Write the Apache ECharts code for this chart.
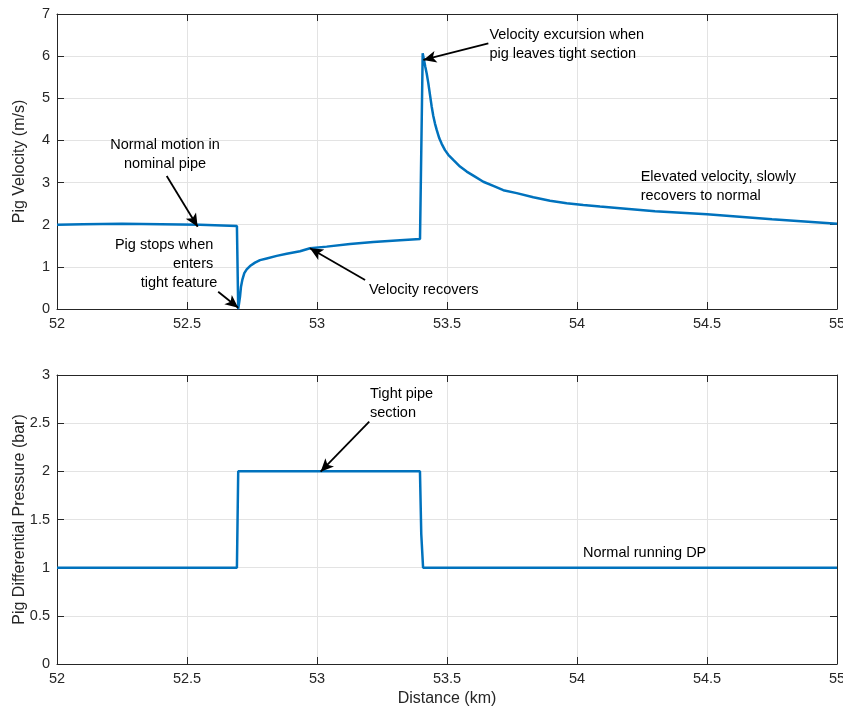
<!DOCTYPE html>
<html>
<head>
<meta charset="utf-8">
<script src="https://cdn.jsdelivr.net/npm/echarts@6/dist/echarts.min.js"></script>
<style>
html,body{margin:0;padding:0;background:#fff;}
#chart{width:843px;height:709px;}
</style>
</head>
<body>
<div id="chart"></div>
<script>
// ---- Data ----
const velDistance = [52, 52.1, 52.25, 52.4, 52.55, 52.692, 52.697,
  52.7012, 52.7038, 52.7077, 52.7127, 52.7204, 52.7296, 52.7423, 52.7615, 52.7808, 52.8065, 52.845, 52.8835, 52.9346, 52.9731, 53.0373, 53.1269, 53.2165, 53.3192, 53.3962,
  53.4065, 53.4115, 53.4165, 53.4219, 53.4281, 53.4346, 53.4412, 53.4473, 53.4538, 53.4604, 53.4704, 53.4796, 53.4923, 53.505, 53.5242, 53.55, 53.5758, 53.6077, 53.6396, 53.6781, 53.7165, 53.7681, 53.8319, 53.8962, 53.9604, 54.0242, 54.0885, 54.1654,
  54.3, 54.5, 54.75, 55];
const velocity = [2.00, 2.01, 2.02, 2.01, 2.00, 1.97, 0.00,
  0.02, 0.29, 0.53, 0.69, 0.85, 0.94, 1.02, 1.10, 1.16, 1.20, 1.26, 1.31, 1.37, 1.44, 1.48, 1.54, 1.59, 1.63, 1.66,
  6.07, 5.91, 5.75, 5.59, 5.36, 5.08, 4.80, 4.58, 4.40, 4.25, 4.05, 3.92, 3.77, 3.66, 3.54, 3.38, 3.26, 3.14, 3.02, 2.92, 2.82, 2.75, 2.65, 2.57, 2.51, 2.47, 2.43, 2.39,
  2.32, 2.25, 2.13, 2.02];

const dpDistance = [52, 52.692, 52.697, 53.396, 53.401, 53.408, 55];
const dpValues   = [1, 1, 2, 2, 1.35, 1, 1];

const xTicks = { min: 52, max: 55, interval: 0.5 };
const velTicks = { min: 0, max: 7, interval: 1 };
const dpTicks = { min: 0, max: 3, interval: 0.5 };

const xLabel = 'Distance (km)';
const velLabel = 'Pig Velocity (m/s)';
const dpLabel = 'Pig Differential Pressure (bar)';

// Annotations (data coordinates)
const velTexts = [
  { text: 'Normal motion in\nnominal pipe', at: [52.4154, 3.666], align: 'center' },
  { text: 'Pig stops when', at: [52.601, 1.519], align: 'right' },
  { text: 'enters', at: [52.601, 1.068], align: 'right' },
  { text: 'tight feature', at: [52.6165, 0.624], align: 'right' },
  { text: 'Velocity recovers', at: [53.200, 0.451], align: 'left' },
  { text: 'Velocity excursion when\npig leaves tight section', at: [53.663, 6.276], align: 'left' },
  { text: 'Elevated velocity, slowly\nrecovers to normal', at: [54.245, 2.914], align: 'left' }
];
const velArrows = [
  { from: [52.422, 3.156], to: [52.541, 1.953] },
  { from: [52.620, 0.410], to: [52.697, 0.030] },
  { from: [53.185, 0.688], to: [52.973, 1.440] },
  { from: [53.659, 6.305], to: [53.409, 5.909] }
];
const dpTexts = [
  { text: 'Tight pipe\nsection', at: [53.204, 2.706], align: 'left' },
  { text: 'Normal running DP', at: [54.023, 1.152], align: 'left' }
];
const dpArrows = [
  { from: [53.201, 2.515], to: [53.014, 1.996] }
];

// ---- Chart ----
const FONT = "'Liberation Sans', Arial, Helvetica, sans-serif";
const AX = '#262626';
const GRIDC = '#e3e3e3';
const BLUE = '#0072BD';

function zip(a, b) { return a.map((v, i) => [v, b[i]]); }

function xAxisCfg(grid, pos, name, showLabel) {
  return {
    type: 'value', gridIndex: grid, position: pos,
    min: xTicks.min, max: xTicks.max, interval: xTicks.interval,
    name: name || '', nameLocation: 'middle', nameGap: 27, nameMoveOverlap: false,
    nameTextStyle: { fontFamily: FONT, fontSize: 16, color: AX },
    axisLine: { show: true, onZero: false, lineStyle: { color: AX, width: 1 } },
    axisTick: { show: true, inside: true, length: 7, lineStyle: { color: AX } },
    axisLabel: { show: showLabel, margin: 7, fontFamily: FONT, fontSize: 14.5, color: AX, hideOverlap: false },
    splitLine: { show: showLabel, lineStyle: { color: GRIDC, width: 1 } }
  };
}
function yAxisCfg(grid, pos, t, name, showLabel) {
  return {
    type: 'value', gridIndex: grid, position: pos,
    min: t.min, max: t.max, interval: t.interval,
    name: name || '', nameLocation: 'middle', nameGap: 29, nameMoveOverlap: false,
    nameTextStyle: { fontFamily: FONT, fontSize: 16, color: AX },
    axisLine: { show: true, onZero: false, lineStyle: { color: AX, width: 1 } },
    axisTick: { show: true, inside: true, length: 7, lineStyle: { color: AX } },
    axisLabel: { show: showLabel, margin: 7, fontFamily: FONT, fontSize: 14.5, color: AX },
    splitLine: { show: showLabel, lineStyle: { color: GRIDC, width: 1 } }
  };
}

function textPoints(list) {
  return list.map(t => ({
    coord: t.at,
    symbol: 'circle', symbolSize: 0,
    label: {
      show: true, position: 'inside', formatter: t.text,
      align: t.align, verticalAlign: 'middle',
      fontFamily: FONT, fontSize: 14.5, color: '#000', lineHeight: 19
    }
  }));
}
function arrowLines(list) {
  return list.map(a => [
    { coord: a.from, symbol: 'none' },
    { coord: a.to, symbol: 'arrow' }
  ]);
}

const chart = echarts.init(document.getElementById('chart'), null, { renderer: 'canvas' });
chart.setOption({
  animation: false,
  backgroundColor: '#fff',
  grid: [
    { left: 57, right: 6, top: 14, height: 295, containLabel: false, outerBoundsMode: 'none' },
    { left: 57, right: 6, top: 375, height: 289, containLabel: false, outerBoundsMode: 'none' }
  ],
  xAxis: [
    xAxisCfg(0, 'bottom', '', true),
    xAxisCfg(0, 'top', '', false),
    xAxisCfg(1, 'bottom', xLabel, true),
    xAxisCfg(1, 'top', '', false)
  ],
  yAxis: [
    yAxisCfg(0, 'left', velTicks, velLabel, true),
    yAxisCfg(0, 'right', velTicks, '', false),
    yAxisCfg(1, 'left', dpTicks, dpLabel, true),
    yAxisCfg(1, 'right', dpTicks, '', false)
  ],
  series: [
    {
      type: 'line', xAxisIndex: 0, yAxisIndex: 0,
      data: zip(velDistance, velocity),
      showSymbol: false, symbol: 'none',
      lineStyle: { color: BLUE, width: 2.5 },
      markPoint: { silent: true, data: textPoints(velTexts) },
      markLine: {
        silent: true, symbolSize: [9, 13],
        lineStyle: { color: '#000', width: 1.8, type: 'solid' },
        label: { show: false },
        data: arrowLines(velArrows)
      }
    },
    {
      type: 'line', xAxisIndex: 2, yAxisIndex: 2,
      data: zip(dpDistance, dpValues),
      showSymbol: false, symbol: 'none',
      lineStyle: { color: BLUE, width: 2.5 },
      markPoint: { silent: true, data: textPoints(dpTexts) },
      markLine: {
        silent: true, symbolSize: [9, 13],
        lineStyle: { color: '#000', width: 1.8, type: 'solid' },
        label: { show: false },
        data: arrowLines(dpArrows)
      }
    }
  ]
});
</script>
</body>
</html>
